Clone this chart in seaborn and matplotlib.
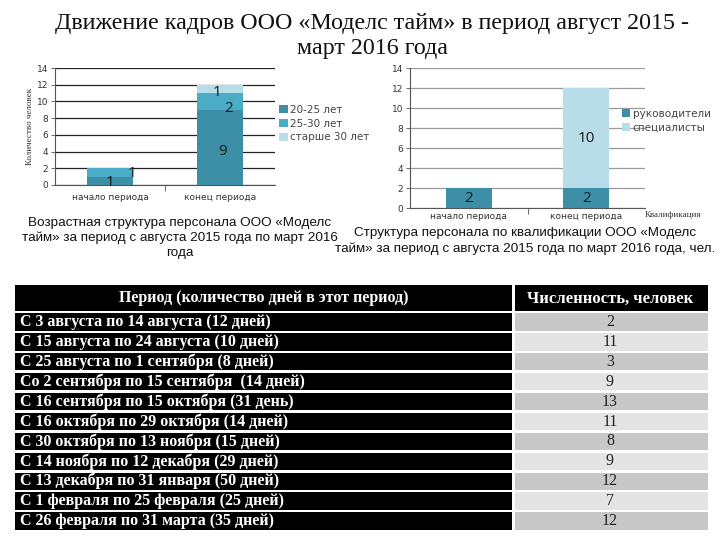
import matplotlib
matplotlib.use("Agg")
import matplotlib.pyplot as plt
from matplotlib.patches import Rectangle
from matplotlib.ticker import FixedLocator
import seaborn as sns
import numpy as np

# ---------------- data ----------------
categories = ["начало периода", "конец периода"]
age_groups = ["20-25 лет", "25-30 лет", "старше 30 лет"]
age_20_25 = [1, 9]
age_25_30 = [1, 2]
age_30_plus = [0, 1]

qual_groups = ["руководители", "специалисты"]
managers = [2, 2]
specialists = [0, 10]

y_ticks = [0, 2, 4, 6, 8, 10, 12, 14]

periods = [
    "С 3 августа по 14 августа (12 дней)",
    "С 15 августа по 24 августа (10 дней)",
    "С 25 августа по 1 сентября (8 дней)",
    "Со 2 сентября по 15 сентября  (14 дней)",
    "С 16 сентября по 15 октября (31 день)",
    "С 16 октября по 29 октября (14 дней)",
    "С 30 октября по 13 ноября (15 дней)",
    "С 14 ноября по 12 декабря (29 дней)",
    "С 13 декабря по 31 января (50 дней)",
    "С 1 февраля по 25 февраля (25 дней)",
    "С 26 февраля по 31 марта (35 дней)",
]
headcount = [2, 11, 3, 9, 13, 11, 8, 9, 12, 7, 12]
table_header = ["Период (количество дней в этот период)", "Численность, человек"]

title = "Движение кадров ООО «Моделс тайм» в период август 2015 -\nмарт 2016 года"
caption_left = "Возрастная структура персонала ООО «Моделс\nтайм» за период с августа 2015 года по март 2016\nгода"
caption_right = "Структура персонала по квалификации ООО «Моделс\nтайм» за период с августа 2015 года по март 2016 года, чел."

# ---------------- style ----------------
sns.set_theme(style="white")
plt.rcParams["font.family"] = ["DejaVu Sans"]

SERIF = ["Liberation Serif", "DejaVu Serif"]
SANS = ["Liberation Sans", "DejaVu Sans"]

c_dark = "#3D8FA8"
c_mid = "#4BACC6"
c_light = "#B7DEE8"

W, H = 720, 540
fig = plt.figure(figsize=(7.2, 5.4), dpi=100)
fig.patch.set_facecolor("white")


def px_axes(x0, y0, x1, y1):
    return fig.add_axes([x0 / W, 1 - y1 / H, (x1 - x0) / W, (y1 - y0) / H])


fig.text(372 / W, 1 - 36 / H, title, ha="center", va="center",
         fontsize=17.3, family=SERIF, color="#111111", linespacing=1.25)


def style_chart(ax, grid_color, xpad):
    ax.set_ylim(0, 14)
    ax.set_xlim(-0.5, 1.5)
    ax.set_yticks(y_ticks)
    ax.set_yticklabels([str(t) for t in y_ticks], fontsize=6.5, color="#333333")
    ax.xaxis.set_minor_locator(FixedLocator([0.5]))
    ax.tick_params(axis="x", which="major", labelsize=6.5, colors="#333333", length=0, pad=xpad)
    ax.tick_params(axis="x", which="minor", length=4, width=0.6, color="#555555", bottom=True)
    ax.tick_params(axis="y", length=3, width=0.6, color="#555555", pad=2, left=True)
    ax.yaxis.grid(True, color=grid_color, linewidth=0.9)
    ax.xaxis.grid(False)
    ax.set_axisbelow(True)
    for s in ["top", "right"]:
        ax.spines[s].set_visible(False)
    for s in ["left", "bottom"]:
        ax.spines[s].set_color("#555555")
        ax.spines[s].set_linewidth(0.8)
    ax.set_xlabel("")
    ax.set_ylabel("")
    ax.set_facecolor("none")


# ---------------- left chart ----------------
axL = px_axes(55, 68, 275, 185)
b0 = np.zeros(2)
for vals, col, lab in zip([age_20_25, age_25_30, age_30_plus],
                          [c_dark, c_mid, c_light], age_groups):
    sns.barplot(x=categories, y=vals, bottom=b0, color=col, width=0.41,
                saturation=1, ax=axL, label=lab, linewidth=0)
    b0 = b0 + np.array(vals)
style_chart(axL, "#222222", 6)
axL.set_ylabel("Количество человек", fontsize=6.5, family=SERIF, color="#333333", labelpad=2)
axL.legend(loc="upper left", bbox_to_anchor=(1.0, 0.72), frameon=False,
           fontsize=7.5, handlelength=0.8, handleheight=0.8, handletextpad=0.2,
           labelspacing=0.35, borderaxespad=0, labelcolor="#444444")

lab_kw = dict(fontsize=11, color="#1a1a1a", family=["Open Sans", "DejaVu Sans"])
axL.text(0, age_20_25[0] / 2 - 0.2, str(age_20_25[0]), ha="center", va="center", **lab_kw)
axL.text(0.2, age_20_25[0] + age_25_30[0] / 2 - 0.1, str(age_25_30[0]), ha="center", va="center", **lab_kw)
axL.text(1.02, age_20_25[1] / 2 - 0.5, str(age_20_25[1]), ha="center", va="center", **lab_kw)
axL.text(1.08, age_20_25[1] + age_25_30[1] / 2 - 0.8, str(age_25_30[1]), ha="center", va="center", **lab_kw)
axL.text(0.97, age_20_25[1] + age_25_30[1] + age_30_plus[1] / 2 - 0.4, str(age_30_plus[1]),
         ha="center", va="center", **lab_kw)

fig.text(180 / W, 1 - 238 / H, caption_left, ha="center", va="center",
         fontsize=9.7, family=SANS, color="#111111", linespacing=1.3)

# ---------------- right chart ----------------
axR = px_axes(410, 68, 645, 208)
b1 = np.zeros(2)
for vals, col, lab in zip([managers, specialists], [c_dark, c_light], qual_groups):
    sns.barplot(x=categories, y=vals, bottom=b1, color=col, width=0.39,
                saturation=1, ax=axR, label=lab, linewidth=0)
    b1 = b1 + np.array(vals)
style_chart(axR, "#9a9a9a", 3)
axR.legend(loc="upper left", bbox_to_anchor=(0.885, 0.74), frameon=False,
           fontsize=7.5, handlelength=0.8, handleheight=0.8, handletextpad=0.2,
           labelspacing=0.4, borderaxespad=0, labelcolor="#444444")
for i in range(2):
    axR.text(i, managers[i] / 2, str(managers[i]), ha="center", va="center", **lab_kw)
    if specialists[i] > 0:
        axR.text(i, managers[i] + specialists[i] / 2, str(specialists[i]),
                 ha="center", va="center", **lab_kw)
fig.text(645 / W, 1 - 215 / H, "Квалификация", ha="left", va="center",
         fontsize=6.5, family=SERIF, color="#333333")

fig.text(525 / W, 1 - 241 / H, caption_right, ha="center", va="center",
         fontsize=9.7, family=SANS, color="#111111", linespacing=1.35)

# ---------------- table ----------------
axT = px_axes(15, 285, 708, 531)
tw, th = 693, 246
axT.set_xlim(0, tw)
axT.set_ylim(th, 0)
axT.axis("off")
col_split = 497
gap = 2.5
header_h = 27
row_h = (th - header_h) / len(periods)

axT.add_patch(Rectangle((0, 0), col_split, header_h - gap / 2, color="black", lw=0))
axT.add_patch(Rectangle((col_split + gap, 0), tw - col_split - gap, header_h - gap / 2,
                        color="black", lw=0))
axT.text(col_split / 2, header_h / 2, table_header[0], ha="center", va="center",
         color="white", fontsize=11.5, fontweight="bold", family=SERIF)
axT.text((col_split + tw) / 2, header_h / 2, table_header[1], ha="center", va="center",
         color="white", fontsize=12, fontweight="bold", family=SERIF)

for i, (p, v) in enumerate(zip(periods, headcount)):
    y0 = header_h + i * row_h
    axT.add_patch(Rectangle((0, y0 + gap / 2), col_split, row_h - gap, color="black", lw=0))
    shade = "#C8C8C8" if i % 2 == 0 else "#E4E4E4"
    axT.add_patch(Rectangle((col_split + gap, y0 + gap / 2), tw - col_split - gap, row_h - gap,
                            color=shade, lw=0))
    axT.text(5, y0 + row_h / 2, p, ha="left", va="center", color="white",
             fontsize=11.5, fontweight="bold", family=SERIF)
    axT.text((col_split + tw) / 2, y0 + row_h / 2, str(v), ha="center", va="center",
             color="#222222", fontsize=11.5, family=SERIF)

fig.savefig("out.png", dpi=100, facecolor="white")
